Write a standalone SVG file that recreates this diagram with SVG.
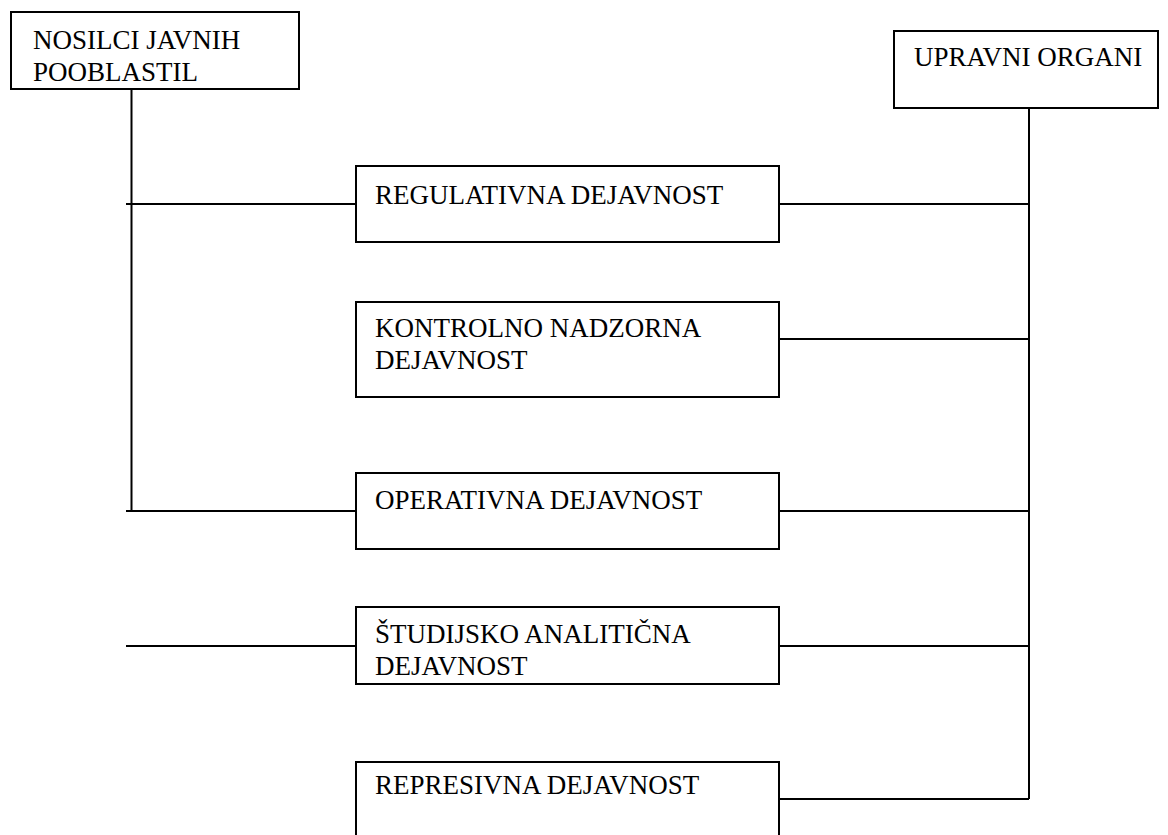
<svg xmlns="http://www.w3.org/2000/svg" width="1168" height="835" viewBox="0 0 1168 835">
  <style>
    .box { fill: #ffffff; stroke: #000000; stroke-width: 2; }
    .lbl { font-family: "Liberation Serif", "DejaVu Serif", serif; font-size: 27px; fill: #000000; }
    .wire { fill: none; stroke: #000000; stroke-width: 2; }
  </style>
  <rect width="1168" height="835" fill="#ffffff"/>

  <!-- connectors -->
  <g id="connectors">
    <path class="wire" d="M131.5 89 V512"/>
    <path class="wire" d="M1029 108 V799"/>
    <path class="wire" d="M126 204 H356"/>
    <path class="wire" d="M126 511 H356"/>
    <path class="wire" d="M126 646 H356"/>
    <path class="wire" d="M779 204 H1029"/>
    <path class="wire" d="M779 339 H1029"/>
    <path class="wire" d="M779 511 H1029"/>
    <path class="wire" d="M779 646 H1029"/>
    <path class="wire" d="M779 799 H1029"/>
  </g>

  <g id="nosilci">
    <rect class="box" x="11" y="12" width="288" height="77"/>
    <text class="lbl" x="33" y="49">NOSILCI JAVNIH</text>
    <text class="lbl" x="33" y="81">POOBLASTIL</text>
  </g>

  <g id="upravni">
    <rect class="box" x="894" y="31" width="264" height="77"/>
    <text class="lbl" x="914" y="66">UPRAVNI ORGANI</text>
  </g>

  <g id="regulativna">
    <rect class="box" x="356" y="166" width="423" height="76"/>
    <text class="lbl" x="375" y="204">REGULATIVNA DEJAVNOST</text>
  </g>

  <g id="kontrolno">
    <rect class="box" x="356" y="302" width="423" height="95"/>
    <text class="lbl" x="375" y="337">KONTROLNO NADZORNA</text>
    <text class="lbl" x="375" y="369">DEJAVNOST</text>
  </g>

  <g id="operativna">
    <rect class="box" x="356" y="473" width="423" height="76"/>
    <text class="lbl" x="375" y="509">OPERATIVNA DEJAVNOST</text>
  </g>

  <g id="studijsko">
    <rect class="box" x="356" y="607" width="423" height="77"/>
    <text class="lbl" x="375" y="643">ŠTUDIJSKO ANALITIČNA</text>
    <text class="lbl" x="375" y="675">DEJAVNOST</text>
  </g>

  <g id="represivna">
    <rect class="box" x="356" y="762" width="423" height="90"/>
    <text class="lbl" x="375" y="794">REPRESIVNA DEJAVNOST</text>
  </g>
</svg>
